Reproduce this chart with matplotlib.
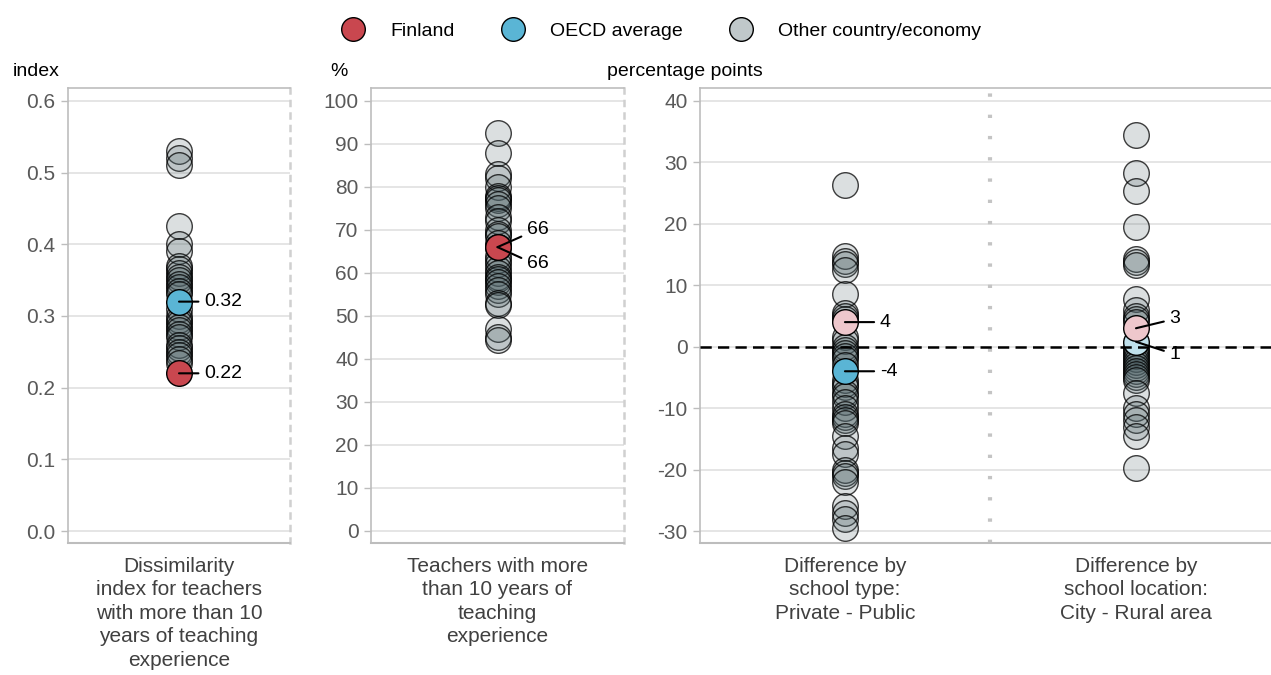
import matplotlib.pyplot as plt
from matplotlib.lines import Line2D

plt.rcParams['font.family'] = ['Liberation Sans', 'DejaVu Sans']
plt.rcParams['axes.unicode_minus'] = False

# Colours
RED = '#c9474f'
BLUE = '#5ab5d5'
PALE_RED = '#eec7cc'
PALE_BLUE = '#c0e1ec'
GREY = '#c0c8ca'
TICK_GREY = '#595959'
SPINE_GREY = '#bdbdbd'

# Panel 1: dissimilarity index
dis_other = [0.53, 0.52, 0.51, 0.425, 0.40, 0.39, 0.37, 0.365, 0.36, 0.355,
             0.35, 0.345, 0.34, 0.335, 0.33, 0.31, 0.30, 0.295, 0.29, 0.285,
             0.28, 0.275, 0.27, 0.26, 0.255, 0.25, 0.245, 0.24, 0.235]
dis_fin = 0.22
dis_oecd = 0.32

# Panel 2: % teachers with more than 10 years of experience
exp_other = [92.5, 88, 83, 82, 80, 78, 77.5, 77, 76, 75, 73, 72, 70, 69,
             68.5, 67, 64, 63, 62, 61, 60, 59, 58.5, 58, 57, 56, 55, 53,
             52.5, 47, 45, 44.5]
exp_fin = 66
exp_oecd = 66

# Panel 3: differences (percentage points)
diff_cats = ['Difference by\nschool type:\nPrivate - Public',
             'Difference by\nschool location:\nCity - Rural area']
type_other = [26.3, 14.8, 14, 13.5, 12.5, 8.5, 5.5, 5, 4.5, 1.5, 1, 0, -0.5,
              -1, -1.5, -2, -3, -5.5, -6, -6.5, -7.5, -8, -9, -10, -11, -11.5,
              -12, -12.5, -14.5, -16.5, -17.5, -20, -20.5, -21, -22, -26, -27,
              -28, -29.5]
loc_other = [34.5, 28.2, 25.4, 19.5, 14.2, 13.8, 13.3, 7.7, 6, 5, 4.5, 4, 0,
             -0.5, -1, -1.5, -2, -2.5, -3, -3.5, -4, -4.5, -5, -5.5, -7.5, -10,
             -11, -12, -13, -14.5, -19.7]
diff_fin = [4, 3]
diff_oecd = [-4, 0.8]
diff_fin_sig = [False, False]
diff_oecd_sig = [True, False]

W, H = 1271, 675
fig = plt.figure(figsize=(W / 100, H / 100), dpi=100)


def px_axes(x0, x1, y0=88, y1=543):
    return fig.add_axes([x0 / W, 1 - y1 / H, (x1 - x0) / W, (y1 - y0) / H])


def style_axes(ax, right_dotted=True):
    ax.set_facecolor('white')
    for s in ['left', 'bottom', 'top']:
        ax.spines[s].set_color(SPINE_GREY)
        ax.spines[s].set_linewidth(1.2)
    ax.spines['bottom'].set_linewidth(1.5)
    if right_dotted:
        ax.spines['right'].set_color('#d0d0d0')
        ax.spines['right'].set_linewidth(1.8)
        ax.spines['right'].set_linestyle((0, (2, 3)))
    else:
        ax.spines['right'].set_visible(False)
    ax.grid(axis='y', color='#e0e0e0', linewidth=1.2)
    ax.set_axisbelow(True)
    ax.tick_params(axis='y', colors=TICK_GREY, labelsize=15, length=5,
                   width=1, color=SPINE_GREY, pad=4)
    ax.tick_params(axis='x', length=0, labelsize=15, labelcolor='#404040', pad=10)


def other_dots(ax, x, vals):
    ax.scatter([x] * len(vals), vals, s=340, facecolors=[(0.3, 0.38, 0.4, 0.2)],
               edgecolors=[(0, 0, 0, 0.75)], linewidths=1, zorder=3)


def key_dot(ax, x, v, color):
    ax.scatter([x], [v], s=340, facecolors=color, edgecolors='black',
               linewidths=1, zorder=4)


def label(ax, x, v, text, dx, dy, relpos=(0, 0.5)):
    ax.annotate(text, xy=(x, v), xytext=(dx, dy), textcoords='offset points',
                ha='left', va='center', fontsize=14, color='black', zorder=6,
                arrowprops=dict(arrowstyle='-', color='black', lw=1.5,
                                shrinkA=2, shrinkB=0, relpos=relpos))


# Panel 1
ax1 = px_axes(68, 290)
style_axes(ax1)
other_dots(ax1, 0, dis_other)
key_dot(ax1, 0, dis_oecd, BLUE)
key_dot(ax1, 0, dis_fin, RED)
label(ax1, 0, dis_oecd, f'{dis_oecd:.2f}', 18, 0)
label(ax1, 0, dis_fin, f'{dis_fin:.2f}', 18, 0)
ax1.set_xlim(-0.5, 0.5)
ax1.set_ylim(-0.0167, 0.618)
ax1.set_yticks([0, 0.1, 0.2, 0.3, 0.4, 0.5, 0.6])
ax1.set_yticklabels([f'{t:.1f}' for t in [0, 0.1, 0.2, 0.3, 0.4, 0.5, 0.6]])
ax1.set_xticks([0])
ax1.set_xticklabels(['Dissimilarity\nindex for teachers\nwith more than 10\nyears of teaching\nexperience'],
                    va='top', linespacing=1.3)

# Panel 2
ax2 = px_axes(371, 624)
style_axes(ax2)
other_dots(ax2, 0, exp_other)
key_dot(ax2, 0, exp_oecd, BLUE)
key_dot(ax2, 0, exp_fin, RED)
label(ax2, 0, exp_fin, f'{exp_fin:.0f}', 21, 13, relpos=(0, 0.2))
label(ax2, 0, exp_oecd, f'{exp_oecd:.0f}', 21, -12, relpos=(0, 0.7))
ax2.set_xlim(-0.5, 0.5)
ax2.set_ylim(-2.8, 103)
ax2.set_yticks(range(0, 101, 10))
ax2.set_xticks([0])
ax2.set_xticklabels(['Teachers with more\nthan 10 years of\nteaching\nexperience'],
                    va='top', linespacing=1.3)

# Panel 3
ax3 = px_axes(700, 1271)
style_axes(ax3, right_dotted=False)
xs = [1, 2]
other_dots(ax3, 1, type_other)
other_dots(ax3, 2, loc_other)
for x, v, sig in zip(xs, diff_oecd, diff_oecd_sig):
    key_dot(ax3, x, v, BLUE if sig else PALE_BLUE)
for x, v, sig in zip(xs, diff_fin, diff_fin_sig):
    key_dot(ax3, x, v, RED if sig else PALE_RED)
ax3.axhline(0, color='black', linestyle=(0, (4.5, 2.5)), linewidth=1.8, zorder=5)
ax3.axvline(1.5, color='#c4c4c4', linestyle=(0, (0.8, 4.3)), linewidth=3, zorder=1)
label(ax3, 1, diff_fin[0], f'{diff_fin[0]:.0f}', 25, 0)
label(ax3, 1, diff_oecd[0], f'{diff_oecd[0]:.0f}', 25, 0)
label(ax3, 2, diff_fin[1], f'{diff_fin[1]:.0f}', 24, 7, relpos=(0, 0.4))
label(ax3, 2, diff_oecd[1], f'{diff_oecd[1]:.0f}', 24, -9, relpos=(0, 0.6))
ax3.set_xlim(0.502, 2.464)
ax3.set_ylim(-31.95, 42.1)
ax3.set_yticks(range(-30, 41, 10))
ax3.set_xticks(xs)
ax3.set_xticklabels(diff_cats, va='top', linespacing=1.3)

# Unit labels
fig.text(13 / W, 1 - 72 / H, 'index', fontsize=14, va='center', ha='left')
fig.text(330 / W, 1 - 72 / H, '%', fontsize=14, va='center', ha='left')
fig.text(607 / W, 1 - 72 / H, 'percentage points', fontsize=14, va='center', ha='left')

# Legend
handles = [Line2D([], [], marker='o', linestyle='none', markersize=17,
                  markerfacecolor=c, markeredgecolor='black', markeredgewidth=1)
           for c in [RED, BLUE, GREY]]
fig.legend(handles, ['Finland', 'OECD average', 'Other country/economy'],
           loc='upper center', bbox_to_anchor=(0.517, 0.993), ncol=3,
           frameon=False, fontsize=14, handletextpad=0.9, columnspacing=2.0)

fig.savefig('out.png', dpi=100, facecolor='white')
